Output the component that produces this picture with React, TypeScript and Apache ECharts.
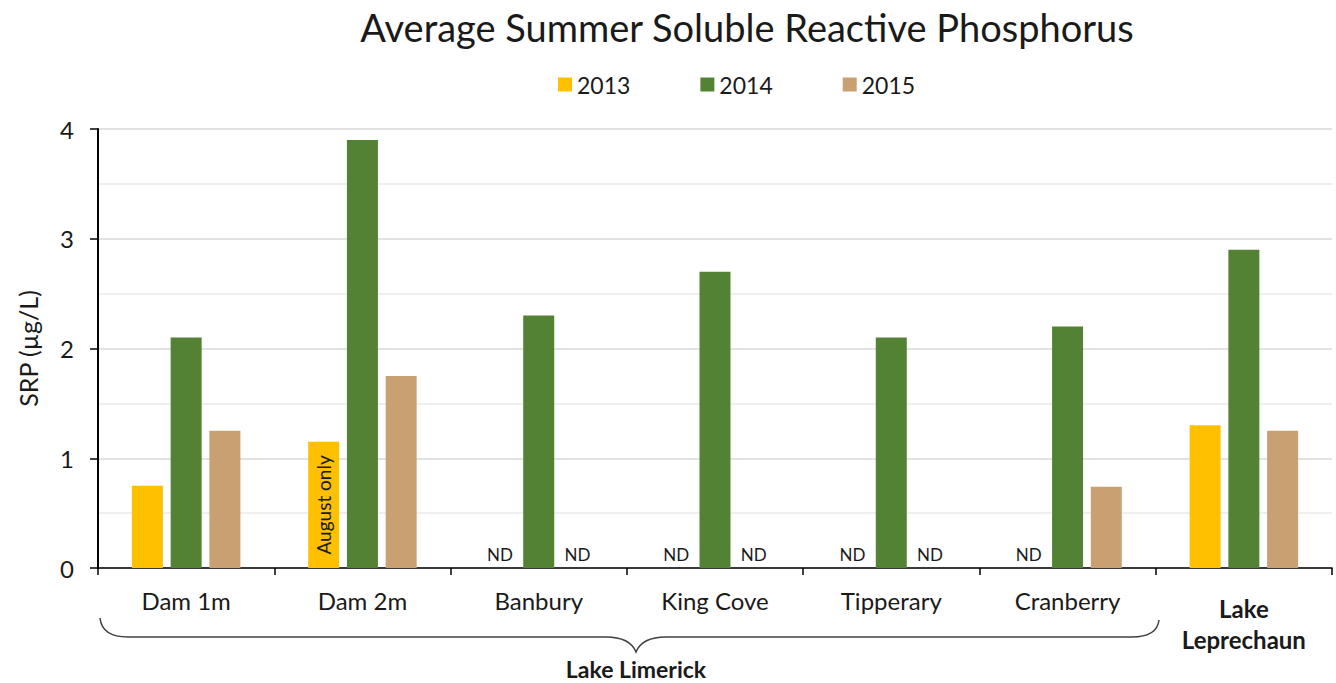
import React, { useEffect, useRef } from "react";
import * as echarts from "echarts";

const categories = ["Dam 1m", "Dam 2m", "Banbury", "King Cove", "Tipperary", "Cranberry", "Lake Leprechaun"];
const seriesNames = ["2013", "2014", "2015"];
// null = ND (not determined)
const values2013: (number | null)[] = [0.75, 1.15, null, null, null, null, 1.3];
const values2014: (number | null)[] = [2.1, 3.9, 2.3, 2.7, 2.1, 2.2, 2.9];
const values2015: (number | null)[] = [1.25, 1.75, null, null, null, 0.74, 1.25];
const colors = ["#FFC000", "#548235", "#C9A072"];
const yTicks = [0, 1, 2, 3, 4];
const noteLabel = { index: 1, series: 0, text: "August only" };
const groupLabel = "Lake Limerick";
const FONT = "Lato, 'Open Sans', sans-serif";

const bracePath =
  "M100,618 Q102,637 128,637 L606,637 Q630,637 636,652 Q642,637 666,637 L1132,637 Q1157,637 1159,620";

let registered = false;

export default function App() {
  const ref = useRef<HTMLDivElement>(null);
  useEffect(() => {
    if (!ref.current) return;
    if (!registered) {
      echarts.graphic.registerShape("logo", echarts.graphic.extendPath(bracePath, {}) as any);
      registered = true;
    }
    const chart = echarts.init(ref.current, undefined, { renderer: "svg" });
    const all = [values2013, values2014, values2015];
    const series = all.map((vals, si) => ({
      name: seriesNames[si],
      type: "bar",
      barWidth: 31,
      barGap: "25%",
      itemStyle: { color: colors[si] },
      data: vals.map((v, ci) => {
        if (v === null) {
          return {
            value: 0,
            label: {
              show: true,
              position: "top",
              distance: 5,
              formatter: "ND",
              fontSize: 17,
              color: "#1a1a1a",
              fontFamily: FONT,
            },
          };
        }
        if (si === noteLabel.series && ci === noteLabel.index) {
          return {
            value: v,
            label: {
              show: true,
              position: "inside",
              rotate: 90,
              formatter: noteLabel.text,
              fontSize: 19,
              color: "#1a1a1a",
              fontFamily: FONT,
            },
          };
        }
        return { value: v };
      }),
    }));
    chart.setOption({
      animation: false,
      textStyle: { fontFamily: FONT },
      title: {
        text: "Average Summer Soluble Reactive Phosphorus",
        left: 742,
        textAlign: "center",
        top: 3,
        textStyle: { fontSize: 38, fontWeight: "normal", color: "#1a1a1a", fontFamily: FONT },
      },
      legend: {
        left: 553,
        top: 68,
        itemWidth: 14,
        itemHeight: 14,
        itemGap: 70,
        icon: "rect",
        textStyle: { fontSize: 23, color: "#1a1a1a", fontFamily: FONT },
        data: seriesNames,
      },
      grid: { left: 98, right: 4, top: 129, bottom: 115, containLabel: false },
      xAxis: {
        type: "category",
        data: categories,
        axisLine: { lineStyle: { color: "#000", width: 1.5 } },
        axisTick: { show: true, interval: 0, length: 7, lineStyle: { color: "#000", width: 1.5 } },
        axisLabel: {
          interval: 0,
          fontSize: 24,
          color: "#1a1a1a",
          margin: 20,
          formatter: (v: string) =>
            v === "Lake Leprechaun" ? "{s|}\n{b|Lake}\n{b|Leprechaun}" : v,
          rich: {
            s: { fontSize: 10, lineHeight: 5 },
            b: { fontSize: 24, fontWeight: "bold", color: "#1a1a1a", lineHeight: 31, fontFamily: FONT },
          },
        },
      },
      yAxis: {
        type: "value",
        min: yTicks[0],
        max: yTicks[yTicks.length - 1],
        interval: 1,
        name: "SRP (µg/L)",
        nameLocation: "middle",
        nameGap: 58,
        nameTextStyle: { fontSize: 25, color: "#1a1a1a", fontFamily: FONT },
        axisLine: { show: true, lineStyle: { color: "#000", width: 2 } },
        axisTick: { show: true, length: 8, lineStyle: { color: "#000", width: 1.5 } },
        axisLabel: { fontSize: 24, color: "#1a1a1a", margin: 24 },
        splitLine: { show: true, lineStyle: { color: "#D9D9D9", width: 1.5 } },
        minorTick: { show: false, splitNumber: 2 },
        minorSplitLine: { show: true, lineStyle: { color: "#EAEAEA", width: 1.5 } },
      },
      series,
      graphic: [
        {
          type: "logo",
          x: 0,
          y: 0,
          style: { fill: "none", stroke: "#404040", lineWidth: 1.5 },
        },
        {
          type: "text",
          x: 636,
          y: 669,
          style: {
            text: groupLabel,
            font: `bold 23px ${FONT}`,
            fill: "#1a1a1a",
            textAlign: "center",
            textVerticalAlign: "middle",
          },
        },
      ],
    });
    return () => chart.dispose();
  }, []);
  return (
    <div
      ref={ref}
      style={{ position: "fixed", left: 0, top: 0, width: 1336, height: 683, background: "#fff" }}
    />
  );
}
